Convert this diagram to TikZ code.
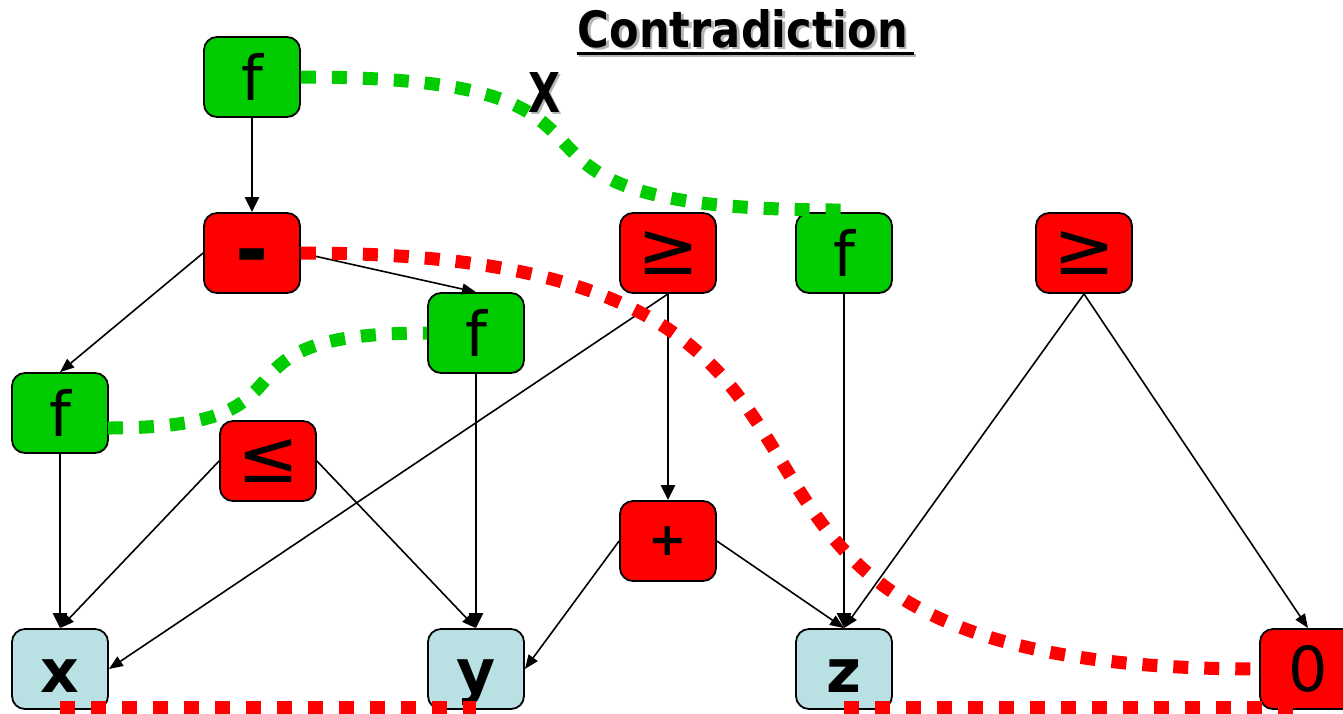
\documentclass[tikz,border=0pt]{standalone}
\usepackage{fontspec}
\usepackage{graphicx}
\setmainfont{DejaVu Sans}
\usetikzlibrary{arrows.meta}
\definecolor{ggreen}{HTML}{00CC00}
\definecolor{rred}{HTML}{FF0000}
\definecolor{lblue}{HTML}{B9E0E3}
\definecolor{shadowgray}{HTML}{B4B4B4}
\tikzset{
  nodebox/.style={draw=black, line width=1.8pt, rounded corners=13pt, minimum width=96pt, minimum height=80pt, inner sep=0pt, text=black},
  fnode/.style={nodebox, fill=ggreen, font=\fontsize{62}{62}\selectfont},
  opnode/.style={nodebox, fill=rred},
  relnode/.style={opnode, font=\fontsize{74}{74}\selectfont},
  varnode/.style={nodebox, fill=lblue, font=\fontsize{60}{60}\selectfont\bfseries, text height=47pt, text depth=0pt},
  thickedge/.style={line width=2.8pt, -{Triangle[length=15pt,width=14pt]}},
  thinedge/.style={line width=1.6pt, -{Triangle[length=14pt,width=11pt]}},
  greendots/.style={draw=ggreen, line width=13pt, dash pattern=on 15pt off 16pt},
  reddots/.style={draw=rred, line width=13pt, dash pattern=on 15pt off 16pt},
}
\begin{document}
\begin{tikzpicture}[x=1pt,y=-1pt]
\useasboundingbox (0,0) rectangle (1343,713);
\clip (0,0) rectangle (1343,713);

% title
\node[inner sep=0pt, text=shadowgray] (titleshadow) at (745.5,31) {\resizebox{330pt}{38pt}{\bfseries Contradiction}};
\node[inner sep=0pt] (title) at (743,28.5) {\resizebox{330pt}{38pt}{\bfseries Contradiction}};
\draw[shadowgray, line width=3pt] ([xshift=1pt,yshift=-7.5pt]title.south west) -- ([xshift=8pt,yshift=-7.5pt]title.south east);
\draw[black, line width=3pt] ([xshift=-1pt,yshift=-5pt]title.south west) -- ([xshift=6pt,yshift=-5pt]title.south east);

% nodes
\node[fnode] (f1) at (252,77) {f};
\node[opnode, font=\fontsize{80}{80}\selectfont\bfseries, text height=48pt, text depth=0pt] (minus) at (252,253) {-};
\node[relnode] (ge1) at (668,253) {≥};
\node[fnode] (f3) at (844,253) {f};
\node[relnode] (ge2) at (1084,253) {≥};
\node[fnode] (f2) at (476,333) {f};
\node[fnode] (f4) at (60,413) {f};
\node[relnode] (le) at (268,461) {≤};
\node[opnode, font=\fontsize{46}{46}\selectfont\bfseries] (plus) at (668,541) {+};
\node[varnode] (x) at (60,669) {x};
\node[varnode] (y) at (476,669) {y};
\node[varnode] (z) at (844,669) {z};
\node[opnode, font=\fontsize{62}{62}\selectfont] (zero) at (1308,669) {0};

% edges
\draw[thickedge] (f1.south) -- (minus.north);
\draw[thinedge] (minus.west) -- (f4.north);
\draw[thinedge] (minus.east) -- (f2.north);
\draw[thickedge] (ge1.south) -- (plus.north);
\draw[thinedge] (ge1.south) -- (x.east);
\draw[thickedge] (f3.south) -- (z.north);
\draw[thinedge] (ge2.south) -- (z.north);
\draw[thinedge] (ge2.south) -- (zero.north);
\draw[thickedge] (f4.south) -- (x.north);
\draw[thickedge] (f2.south) -- (y.north);
\draw[thinedge] (le.west) -- (x.north);
\draw[thinedge] (le.east) -- (y.north);
\draw[thinedge] (plus.west) -- (y.east);
\draw[thinedge] (plus.east) -- (z.north);

% X label
\node[inner sep=0pt, text=shadowgray] (xlabelshadow) at (546.5,94) {\resizebox{32pt}{40pt}{\bfseries X}};
\node[inner sep=0pt] (xlabel) at (544,92) {\resizebox{32pt}{40pt}{\bfseries X}};

% dotted relations
\coordinate (g1end) at (844,210);
\coordinate (g2start) at (108,428);
\draw[greendots] (f1.east) .. controls (707,77) and (418,211) .. (g1end);
\draw[greendots] (g2start) .. controls (340,428) and (188,333) .. (f2.west);
\draw[reddots] (minus.east) .. controls (1009,253) and (554,669) .. (zero.west);
\coordinate (rb1) at (60,707);
\coordinate (rb2) at (476,707);
\coordinate (rb3) at (844,707);
\coordinate (rb4) at (1308,707);
\draw[reddots] (rb1) -- (rb2);
\draw[reddots] (rb3) -- (rb4);
\end{tikzpicture}
\end{document}
